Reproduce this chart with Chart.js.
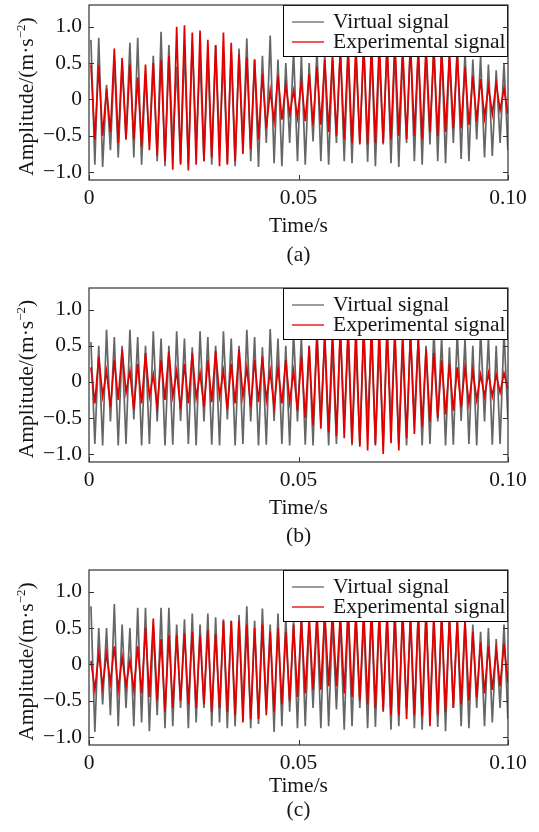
<!DOCTYPE html>
<html>
<head>
<meta charset="utf-8">
<script src="https://cdn.jsdelivr.net/npm/chart.js@4.4.0/dist/chart.umd.min.js"></script>
<style>
  body { margin: 0; background: #fff; width: 539px; height: 832px; position: relative; overflow: hidden; }
  canvas { position: absolute; left: 0; }
</style>
</head>
<body>
<canvas id="chart_a" width="539" height="283" style="top:0px"></canvas>
<canvas id="chart_b" width="539" height="282" style="top:283px"></canvas>
<canvas id="chart_c" width="539" height="267" style="top:565px"></canvas>
<script>
// one oscillation of both signals is ~7.8 px on the 0 - 0.1 s axis
const cyclePeriod = 0.00186;
const timeTicks = [0, 0.05, 0.1];
const ampTicks = [-1, -0.5, 0, 0.5, 1];
const seriesNames = ["Virtual signal", "Experimental signal"];
const captions = ["(a)", "(b)", "(c)"];

// peak / trough of every cycle
const virtualPeaksA = [
  0.82, 0.85, 0.20, 0.55, 0.50, 0.78, 0.85, 0.35, 0.60,
  0.93, 0.75, 0.45, 0.70, 0.80, 0.55, 0.60, 0.75, 0.55,
  0.65, 0.70, 0.84, 0.55, 0.60, 0.88, 0.55, 0.50, 0.68,
  0.60, 0.50, 0.70, 0.62, 0.55, 0.72, 0.65, 0.60, 0.75,
  0.70, 0.60, 0.78, 0.70, 0.60, 0.80, 0.70, 0.62, 0.80,
  0.72, 0.60, 0.75, 0.68, 0.55, 0.60, 0.48, 0.40, 0.50
];
const virtualTroughsA = [
  -0.90, -0.93, -0.70, -0.80, -0.55, -0.80, -0.90, -0.60, -0.85,
  -0.92, -0.65, -0.88, -0.90, -0.60, -0.85, -0.90, -0.60, -0.88,
  -0.92, -0.62, -0.85, -0.93, -0.60, -0.88, -0.92, -0.60, -0.85,
  -0.90, -0.58, -0.85, -0.90, -0.60, -0.85, -0.88, -0.60, -0.86,
  -0.92, -0.62, -0.88, -0.93, -0.60, -0.85, -0.90, -0.62, -0.85,
  -0.88, -0.60, -0.82, -0.85, -0.55, -0.80, -0.78, -0.60, -0.70
];
const experimentalPeaksA = [
  0.48, 0.47, 0.15, 0.70, 0.57, 0.48, 0.30, 0.48, 0.50,
  0.55, 0.60, 1.00, 1.02, 0.92, 0.95, 0.82, 0.75, 0.92,
  0.78, 0.62, 0.58, 0.55, 0.35, 0.12, 0.33, 0.20, 0.12,
  0.25, 0.35, 0.45, 0.55, 0.62, 0.68, 0.72, 0.75, 0.78,
  0.78, 0.80, 0.75, 0.80, 0.72, 0.78, 0.70, 0.75, 0.68,
  0.70, 0.65, 0.62, 0.45, 0.32, 0.28, 0.18, 0.22, 0.15
];
const experimentalTroughsA = [
  -0.55, -0.50, -0.45, -0.60, -0.55, -0.55, -0.65, -0.70, -0.78,
  -0.85, -0.97, -0.90, -0.98, -0.90, -0.85, -0.80, -0.92, -0.90,
  -0.85, -0.75, -0.68, -0.55, -0.40, -0.30, -0.28, -0.20, -0.25,
  -0.30, -0.35, -0.35, -0.45, -0.50, -0.55, -0.60, -0.62, -0.62,
  -0.60, -0.60, -0.55, -0.50, -0.55, -0.50, -0.55, -0.45, -0.50,
  -0.45, -0.40, -0.40, -0.35, -0.30, -0.25, -0.20, -0.15, -0.20
];

const virtualPeaksB = [
  0.55, 0.50, 0.72, 0.62, 0.50, 0.72, 0.62, 0.50, 0.70,
  0.60, 0.50, 0.70, 0.60, 0.48, 0.70, 0.62, 0.50, 0.70,
  0.60, 0.50, 0.72, 0.62, 0.48, 0.73, 0.60, 0.50, 0.70,
  0.62, 0.50, 0.72, 0.60, 0.50, 0.72, 0.62, 0.48, 0.70,
  0.60, 0.50, 0.72, 0.62, 0.50, 0.70, 0.60, 0.50, 0.72,
  0.62, 0.48, 0.70, 0.60, 0.50, 0.72, 0.60, 0.50, 0.70
];
const virtualTroughsB = [
  -0.86, -0.88, -0.55, -0.88, -0.86, -0.52, -0.88, -0.86, -0.55,
  -0.88, -0.87, -0.54, -0.86, -0.88, -0.55, -0.87, -0.88, -0.52,
  -0.88, -0.86, -0.55, -0.88, -0.87, -0.54, -0.86, -0.88, -0.55,
  -0.87, -0.88, -0.52, -0.88, -0.86, -0.55, -0.88, -0.87, -0.54,
  -0.86, -0.88, -0.55, -0.87, -0.88, -0.52, -0.88, -0.86, -0.55,
  -0.88, -0.87, -0.54, -0.86, -0.88, -0.55, -0.87, -0.86, -0.52
];
const experimentalPeaksB = [
  0.20, 0.35, 0.15, 0.30, 0.45, 0.15, 0.25, 0.40, 0.10,
  0.30, 0.42, 0.15, 0.25, 0.40, 0.12, 0.30, 0.43, 0.15,
  0.25, 0.45, 0.20, 0.30, 0.35, 0.15, 0.20, 0.30, 0.15,
  0.35, 0.50, 0.62, 0.68, 0.72, 0.75, 0.80, 0.78, 0.82,
  0.85, 0.80, 0.78, 0.75, 0.70, 0.68, 0.62, 0.45, 0.40,
  0.30, 0.25, 0.20, 0.20, 0.15, 0.10, 0.12, 0.10, 0.12
];
const experimentalTroughsB = [
  -0.30, -0.20, -0.35, -0.25, -0.15, -0.38, -0.30, -0.20, -0.35,
  -0.25, -0.20, -0.38, -0.30, -0.22, -0.35, -0.28, -0.20, -0.38,
  -0.30, -0.20, -0.35, -0.28, -0.25, -0.35, -0.30, -0.28, -0.40,
  -0.50, -0.60, -0.65, -0.70, -0.75, -0.78, -0.85, -0.90, -0.95,
  -0.88, -1.00, -0.85, -0.95, -0.78, -0.72, -0.62, -0.55, -0.50,
  -0.45, -0.40, -0.35, -0.30, -0.25, -0.20, -0.20, -0.15, -0.10
];

const virtualPeaksC = [
  0.80, 0.50, 0.50, 0.83, 0.55, 0.50, 0.78, 0.78, 0.52,
  0.78, 0.78, 0.55, 0.62, 0.70, 0.55, 0.70, 0.65, 0.62,
  0.60, 0.68, 0.80, 0.60, 0.77, 0.55, 0.70, 0.65, 0.60,
  0.72, 0.60, 0.65, 0.72, 0.62, 0.60, 0.75, 0.65, 0.62,
  0.75, 0.70, 0.62, 0.78, 0.70, 0.60, 0.75, 0.70, 0.62,
  0.72, 0.70, 0.60, 0.62, 0.55, 0.45, 0.50, 0.35, 0.55
];
const virtualTroughsC = [
  -0.93, -0.55, -0.70, -0.85, -0.60, -0.85, -0.80, -0.92, -0.70,
  -0.88, -0.85, -0.60, -0.88, -0.80, -0.60, -0.85, -0.80, -0.88,
  -0.85, -0.60, -0.88, -0.82, -0.62, -0.93, -0.85, -0.65, -0.88,
  -0.85, -0.60, -0.88, -0.85, -0.62, -0.90, -0.85, -0.60, -0.88,
  -0.86, -0.62, -0.90, -0.85, -0.60, -0.88, -0.90, -0.62, -0.86,
  -0.92, -0.60, -0.85, -0.88, -0.60, -0.85, -0.80, -0.60, -0.75
];
const experimentalPeaksC = [
  0.05, 0.15, 0.15, 0.25, 0.10, 0.05, 0.25, 0.50, 0.63,
  0.35, 0.40, 0.40, 0.43, 0.45, 0.40, 0.47, 0.42, 0.60,
  0.60, 0.60, 0.55, 0.50, 0.55, 0.45, 0.50, 0.45, 0.55,
  0.60, 0.65, 0.70, 0.72, 0.75, 0.70, 0.78, 0.72, 0.75,
  0.80, 0.72, 0.75, 0.70, 0.78, 0.72, 0.70, 0.75, 0.68,
  0.70, 0.65, 0.62, 0.60, 0.45, 0.30, 0.25, 0.20, 0.28
];
const experimentalTroughsC = [
  -0.35, -0.30, -0.25, -0.35, -0.30, -0.35, -0.40, -0.45, -0.50,
  -0.65, -0.60, -0.50, -0.55, -0.60, -0.55, -0.65, -0.60, -0.65,
  -0.70, -0.80, -0.75, -0.75, -0.70, -0.65, -0.55, -0.50, -0.45,
  -0.40, -0.35, -0.35, -0.30, -0.30, -0.40, -0.45, -0.50, -0.55,
  -0.60, -0.65, -0.70, -0.70, -0.75, -0.70, -0.72, -0.85, -0.70,
  -0.65, -0.60, -0.55, -0.50, -0.45, -0.40, -0.35, -0.30, -0.25
];

const FONT = "'Liberation Serif', 'Times New Roman', serif";
const FONT_SIZE = 21.5;
const INK = "#151515";
const GREY = "#666666";
const RED = "#e00000";

Chart.defaults.font.family = FONT;
Chart.defaults.font.size = FONT_SIZE;
Chart.defaults.color = INK;

// peak then trough for every cycle
function toPoints(peaks, troughs) {
  const pts = [];
  peaks.forEach((p, k) => {
    pts.push({ x: (k + 0.25) * cyclePeriod, y: p });
    pts.push({ x: (k + 0.75) * cyclePeriod, y: troughs[k] });
  });
  return pts;
}

function fmtAmp(v) {
  if (v === 0) return "0";
  return (v < 0 ? "\u2212" : "") + Math.abs(v).toFixed(1);
}

const panelDecor = {
  id: "panelDecor",
  afterDatasetsDraw(chart, args, opts) {
    const { ctx, chartArea: a, scales } = chart;
    ctx.save();

    // legend box, inside the plot, top right
    const lw = 225, lh = 52;
    const lx = a.right - lw, ly = a.top;
    ctx.fillStyle = "#fff";
    ctx.fillRect(lx, ly, lw, lh);
    ctx.strokeStyle = "#000";
    ctx.lineWidth = 1;
    ctx.strokeRect(lx + 0.5, ly + 0.5, lw - 1, lh - 1);
    const rows = [
      { text: seriesNames[0], color: GREY, y: ly + 17 },
      { text: seriesNames[1], color: RED, y: ly + 37 }
    ];
    ctx.font = FONT_SIZE + "px " + FONT;
    ctx.textBaseline = "alphabetic";
    ctx.textAlign = "left";
    rows.forEach((r) => {
      ctx.strokeStyle = r.color;
      ctx.lineWidth = 1.3;
      ctx.beginPath();
      ctx.moveTo(lx + 9, r.y);
      ctx.lineTo(lx + 41, r.y);
      ctx.stroke();
      ctx.fillStyle = INK;
      ctx.fillText(r.text, lx + 50, r.y + 6);
    });

    // frame
    ctx.strokeStyle = "#333";
    ctx.lineWidth = 1.2;
    ctx.strokeRect(a.left, a.top, a.right - a.left, a.bottom - a.top);

    // inward tick marks
    ctx.beginPath();
    ampTicks.forEach((v) => {
      const py = Math.round(scales.y.getPixelForValue(v)) + 0.5;
      ctx.moveTo(a.left, py); ctx.lineTo(a.left + 5, py);
      ctx.moveTo(a.right, py); ctx.lineTo(a.right - 5, py);
    });
    timeTicks.forEach((v) => {
      const px = Math.round(scales.x.getPixelForValue(v)) + 0.5;
      ctx.moveTo(px, a.bottom); ctx.lineTo(px, a.bottom - 5);
    });
    ctx.lineWidth = 1;
    ctx.stroke();
    ctx.restore();
  },
  afterDraw(chart, args, opts) {
    const { ctx, chartArea: a } = chart;
    ctx.save();
    ctx.fillStyle = INK;

    // y title with superscript
    const big = FONT_SIZE + "px " + FONT;
    const small = Math.round(FONT_SIZE * 0.62) + "px " + FONT;
    const p1 = "Amplitude/(m\u00b7s", p2 = "\u22122", p3 = ")";
    ctx.font = big;
    const w1 = ctx.measureText(p1).width, w3 = ctx.measureText(p3).width;
    ctx.font = small;
    const w2 = ctx.measureText(p2).width;
    const total = w1 + w2 + w3;
    ctx.translate(33, (a.top + a.bottom) / 2 + 4);
    ctx.rotate(-Math.PI / 2);
    ctx.textBaseline = "alphabetic";
    ctx.textAlign = "left";
    let cx = -total / 2;
    ctx.font = big; ctx.fillText(p1, cx, 0); cx += w1;
    ctx.font = small; ctx.fillText(p2, cx, -8); cx += w2;
    ctx.font = big; ctx.fillText(p3, cx, 0);
    ctx.setTransform(1, 0, 0, 1, 0, 0);

    // x title and panel caption
    const mid = (a.left + a.right) / 2;
    ctx.font = big;
    ctx.textAlign = "center";
    ctx.fillText("Time/s", mid, a.bottom + opts.titleGap);
    ctx.fillText(opts.caption, mid, a.bottom + opts.captionGap);
    ctx.restore();
  }
};

function drawPanel(canvasId, virtualPts, experimentalPts, caption, xAxisHeight, titleGap, captionGap) {
  const ctx = document.getElementById(canvasId).getContext("2d");
  return new Chart(ctx, {
    type: "line",
    data: {
      datasets: [
        {
          label: seriesNames[0],
          data: virtualPts,
          borderColor: GREY,
          borderWidth: 1.7,
          pointRadius: 0,
          tension: 0,
          order: 2
        },
        {
          label: seriesNames[1],
          data: experimentalPts,
          borderColor: RED,
          borderWidth: 1.7,
          pointRadius: 0,
          tension: 0,
          order: 1
        }
      ]
    },
    options: {
      responsive: false,
      animation: false,
      events: [],
      layout: { padding: { left: 0, right: 31, top: 5, bottom: 0 } },
      plugins: {
        legend: { display: false },
        tooltip: { enabled: false },
        panelDecor: { caption: caption, titleGap: titleGap, captionGap: captionGap }
      },
      scales: {
        x: {
          type: "linear",
          min: 0,
          max: 0.1,
          grid: { display: false, drawTicks: false },
          border: { display: false },
          afterBuildTicks: (s) => { s.ticks = timeTicks.map((v) => ({ value: v })); },
          afterFit: (s) => { s.height = xAxisHeight; s.paddingLeft = 0; s.paddingRight = 0; },
          ticks: {
            padding: 5,
            maxRotation: 0,
            autoSkip: false,
            callback: (v) => (v === 0 ? "0" : v.toFixed(2))
          }
        },
        y: {
          type: "linear",
          min: -1.11,
          max: 1.3,
          grid: { display: false, drawTicks: false },
          border: { display: false },
          afterBuildTicks: (s) => { s.ticks = ampTicks.map((v) => ({ value: v })); },
          afterFit: (s) => { s.width = 89; s.paddingTop = 0; s.paddingBottom = 0; },
          ticks: {
            padding: 7,
            autoSkip: false,
            callback: (v) => fmtAmp(v)
          }
        }
      }
    },
    plugins: [panelDecor]
  });
}

drawPanel("chart_a", toPoints(virtualPeaksA, virtualTroughsA), toPoints(experimentalPeaksA, experimentalTroughsA), captions[0], 103, 52, 81);
drawPanel("chart_b", toPoints(virtualPeaksB, virtualTroughsB), toPoints(experimentalPeaksB, experimentalTroughsB), captions[1], 103, 52, 80);
drawPanel("chart_c", toPoints(virtualPeaksC, virtualTroughsC), toPoints(experimentalPeaksC, experimentalTroughsC), captions[2], 87, 47, 71);
</script>
</body>
</html>
